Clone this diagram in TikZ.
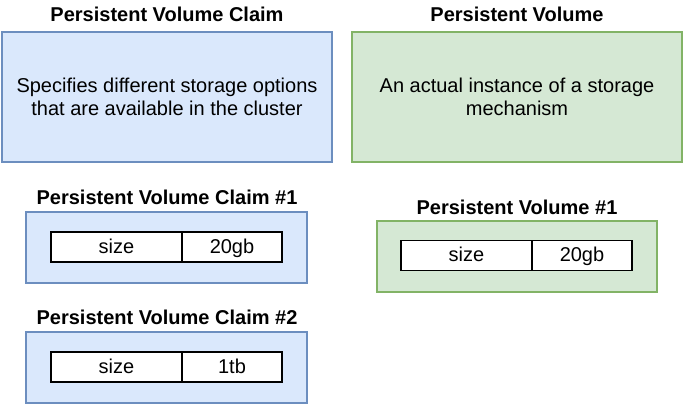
\documentclass[tikz,border=0pt]{standalone}
\usepackage{fontspec}
\setmainfont{Liberation Sans}
\usetikzlibrary{positioning}
\definecolor{pvcfill}{HTML}{DAE8FC}
\definecolor{pvcline}{HTML}{6C8EBF}
\definecolor{pvfill}{HTML}{D5E8D4}
\definecolor{pvline}{HTML}{82B366}
\newcommand{\dfont}{\fontsize{20}{22.5}\selectfont}
\tikzset{
  pvcbox/.style={draw=pvcline, fill=pvcfill, line width=1.3pt, inner sep=0pt, outer sep=0pt},
  pvbox/.style={draw=pvline, fill=pvfill, line width=1.3pt, inner sep=0pt, outer sep=0pt},
  heading/.style={font=\dfont\bfseries, inner sep=0pt},
  cell/.style={draw=black, fill=white, line width=1.3pt, minimum height=30pt,
    text height=15pt, text depth=3pt,
    inner sep=0pt, outer sep=0pt, font=\dfont},
  keycell/.style={cell, minimum width=131pt},
  valcell/.style={cell, minimum width=100pt},
}
\begin{document}
\begin{tikzpicture}[x=1pt, y=-1pt]
  \useasboundingbox (0,0) rectangle (683,404);

  % ---- top row: description ----
  \node[heading] (pvctitle) at (167,14) {Persistent Volume Claim};
  \node[pvcbox, minimum width=330pt, minimum height=130pt, align=center, font=\dfont]
    (pvc) at (167,97) {Specifies different storage options\\that are available in the cluster};
  \node[heading] (pvtitle) at (517,14) {Persistent Volume};
  \node[pvbox, minimum width=330pt, minimum height=130pt, align=center, font=\dfont]
    (pv) at (517,97) {An actual instance of a storage\\mechanism};

  % ---- claim #1 ----
  \node[heading] (pvcatitle) at (167,197) {Persistent Volume Claim \#1};
  \node[pvcbox, minimum width=281pt, minimum height=71pt] (pvca) at (166.5,247.5) {};
  \node[keycell] (pvcakey) at (116.5,247) {size};
  \node[valcell, right=0pt of pvcakey] (pvcaval) {20gb};

  % ---- claim #2 ----
  \node[heading] (pvcbtitle) at (167,317) {Persistent Volume Claim \#2};
  \node[pvcbox, minimum width=281pt, minimum height=71pt] (pvcb) at (166.5,367.5) {};
  \node[keycell] (pvcbkey) at (116.5,367) {size};
  \node[valcell, right=0pt of pvcbkey] (pvcbval) {1tb};

  % ---- volume #1 ----
  \node[heading] (pvatitle) at (517,207) {Persistent Volume \#1};
  \node[pvbox, minimum width=280pt, minimum height=71pt] (pva) at (517,256.5) {};
  \node[keycell] (pvakey) at (466.5,255.5) {size};
  \node[valcell, right=0pt of pvakey] (pvaval) {20gb};
\end{tikzpicture}
\end{document}
